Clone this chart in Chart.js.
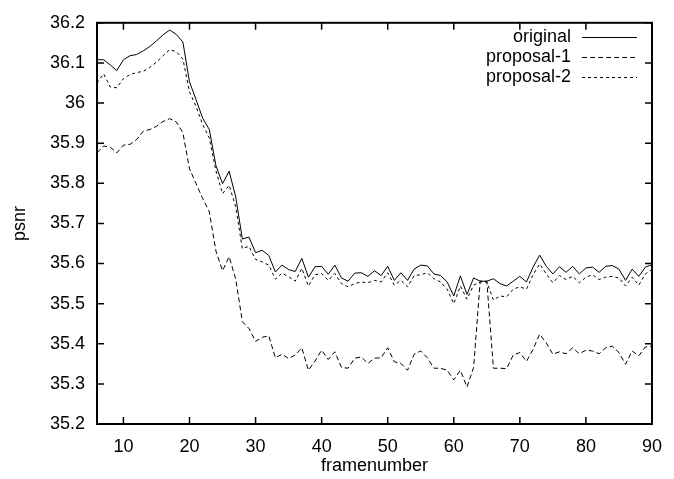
<!DOCTYPE html>
<html>
<head>
<meta charset="utf-8">
<title>psnr per frame</title>
<script src="https://cdn.jsdelivr.net/npm/chart.js@4.4.1/dist/chart.umd.min.js"></script>
<style>
  html,body{ margin:0; padding:0; background:#fff; }
  #wrap{ width:674px; height:479px; }
</style>
</head>
<body>
<div id="wrap"><canvas id="ch" width="674" height="479"></canvas></div>
<script>
// ---- data ----
const frames = [6,7,8,9,10,11,12,13,14,15,16,17,18,19,20,21,22,23,24,25,26,27,28,29,30,
  31,32,33,34,35,36,37,38,39,40,41,42,43,44,45,46,47,48,49,50,51,52,53,54,55,56,57,58,59,60,
  61,62,63,64,65,66,67,68,69,70,71,72,73,74,75,76,77,78,79,80,81,82,83,84,85,86,87,88,89,90];

const original = [36.108,36.108,36.095,36.081,36.108,36.118,36.121,36.130,36.141,36.155,
  36.170,36.182,36.171,36.152,36.053,36.008,35.962,35.934,35.844,35.799,35.830,35.766,35.661,
  35.666,35.627,35.633,35.620,35.579,35.596,35.585,35.580,35.613,35.566,35.592,35.593,35.573,
  35.596,35.564,35.556,35.576,35.577,35.568,35.582,35.570,35.593,35.558,35.577,35.558,35.586,
  35.596,35.594,35.574,35.570,35.554,35.519,35.569,35.523,35.564,35.556,35.556,35.562,35.550,
  35.544,35.556,35.568,35.554,35.591,35.621,35.593,35.574,35.592,35.578,35.593,35.574,35.589,
  35.591,35.578,35.593,35.595,35.586,35.558,35.586,35.568,35.591,35.597];

const proposal1 = [35.876,35.893,35.890,35.876,35.895,35.897,35.909,35.930,35.934,35.942,
  35.954,35.961,35.953,35.926,35.836,35.799,35.762,35.729,35.631,35.582,35.617,35.561,35.455,
  35.438,35.406,35.416,35.420,35.365,35.374,35.363,35.372,35.390,35.334,35.357,35.384,35.361,
  35.380,35.341,35.339,35.364,35.367,35.351,35.364,35.365,35.390,35.355,35.351,35.334,35.374,
  35.382,35.365,35.339,35.339,35.334,35.310,35.334,35.292,35.341,35.556,35.556,35.339,35.339,
  35.338,35.372,35.378,35.356,35.386,35.424,35.402,35.374,35.380,35.375,35.390,35.375,35.384,
  35.382,35.375,35.390,35.394,35.378,35.349,35.382,35.370,35.392,35.394];

const proposal2 = [36.050,36.073,36.040,36.038,36.061,36.071,36.076,36.079,36.089,36.102,
  36.118,36.133,36.128,36.110,36.028,35.991,35.946,35.913,35.831,35.774,35.795,35.741,35.637,
  35.643,35.610,35.604,35.596,35.561,35.576,35.567,35.556,35.588,35.544,35.572,35.575,35.558,
  35.575,35.550,35.542,35.550,35.554,35.552,35.558,35.554,35.577,35.546,35.558,35.542,35.570,
  35.572,35.577,35.562,35.554,35.536,35.500,35.544,35.511,35.546,35.554,35.554,35.509,35.519,
  35.517,35.536,35.542,35.536,35.572,35.599,35.574,35.552,35.570,35.560,35.568,35.552,35.566,
  35.572,35.560,35.566,35.568,35.564,35.544,35.566,35.546,35.574,35.585];

const xTicks = [10,20,30,40,50,60,70,80,90];
const yTicks = [35.2,35.3,35.4,35.5,35.6,35.7,35.8,35.9,36.0,36.1,36.2];

const FONT = { family:'"Liberation Sans", Arial, sans-serif', size:18 };
const TICK = 7;
const pts = arr => arr.map((v,i)=>({ x:frames[i], y:v }));

// gnuplot style frame: box + inward ticks on all four sides, plus the key
const gnuFrame = {
  id:'gnuFrame',
  afterDraw(chart){
    const { ctx, chartArea:a, scales:{ x, y } } = chart;
    ctx.save();
    ctx.strokeStyle = '#000';
    ctx.lineWidth = 1.5;
    ctx.beginPath();
    for(const v of yTicks){
      const p = y.getPixelForValue(v);
      ctx.moveTo(a.left, p);  ctx.lineTo(a.left + TICK, p);
      ctx.moveTo(a.right, p); ctx.lineTo(a.right - TICK, p);
    }
    for(const v of xTicks){
      const p = x.getPixelForValue(v);
      ctx.moveTo(p, a.bottom); ctx.lineTo(p, a.bottom - TICK);
      ctx.moveTo(p, a.top);    ctx.lineTo(p, a.top + TICK);
    }
    ctx.stroke();
    ctx.lineWidth = 2;
    ctx.strokeRect(a.left, a.top, a.right - a.left, a.bottom - a.top);

    // key, top right
    ctx.font = `${FONT.size}px ${FONT.family}`;
    ctx.fillStyle = '#000';
    ctx.textAlign = 'right';
    ctx.textBaseline = 'middle';
    chart.data.datasets.forEach((ds, i) => {
      const yy = 37 + i * 20;
      ctx.fillText(ds.label, 571, yy);
      ctx.beginPath();
      ctx.lineWidth = 1;
      ctx.setLineDash(ds.borderDash || []);
      ctx.moveTo(582, yy + 0.5); ctx.lineTo(637, yy + 0.5);
      ctx.stroke();
      ctx.setLineDash([]);
    });
    ctx.restore();
  }
};

new Chart(document.getElementById('ch'), {
  type:'line',
  data:{
    datasets:[
      { label:'original',   data:pts(original),  borderColor:'#000', borderWidth:1, borderDash:[] },
      { label:'proposal-1', data:pts(proposal1), borderColor:'#000', borderWidth:1, borderDash:[5,3] },
      { label:'proposal-2', data:pts(proposal2), borderColor:'#000', borderWidth:1, borderDash:[3,3] }
    ]
  },
  options:{
    responsive:false, animation:false,
    layout:{ padding:{ top:17, right:12, left:0, bottom:0 } },
    elements:{ point:{ radius:0 }, line:{ tension:0 } },
    plugins:{ legend:{ display:false }, tooltip:{ enabled:false } },
    scales:{
      x:{
        type:'linear', min:6, max:90,
        afterBuildTicks: s => { s.ticks = xTicks.map(v => ({ value:v })); },
        afterFit: s => { s.height = 55; },
        grid:{ display:false, drawTicks:false }, border:{ display:false },
        ticks:{ color:'#000', font:FONT, padding:12, maxRotation:0 },
        title:{ display:true, text:'framenumber', color:'#000', font:FONT, padding:{ top:0, bottom:2 } }
      },
      y:{
        type:'linear', min:35.2, max:36.2,
        afterBuildTicks: s => { s.ticks = yTicks.map(v => ({ value:v })); },
        afterFit: s => { s.width = 97; },
        grid:{ display:false, drawTicks:false }, border:{ display:false },
        ticks:{ color:'#000', font:FONT, padding:12, callback: v => String(+(+v).toFixed(1)) },
        title:{ display:true, text:'psnr', color:'#000', font:FONT, padding:{ top:9, bottom:0 } }
      }
    }
  },
  plugins:[gnuFrame]
});
</script>
</body>
</html>
